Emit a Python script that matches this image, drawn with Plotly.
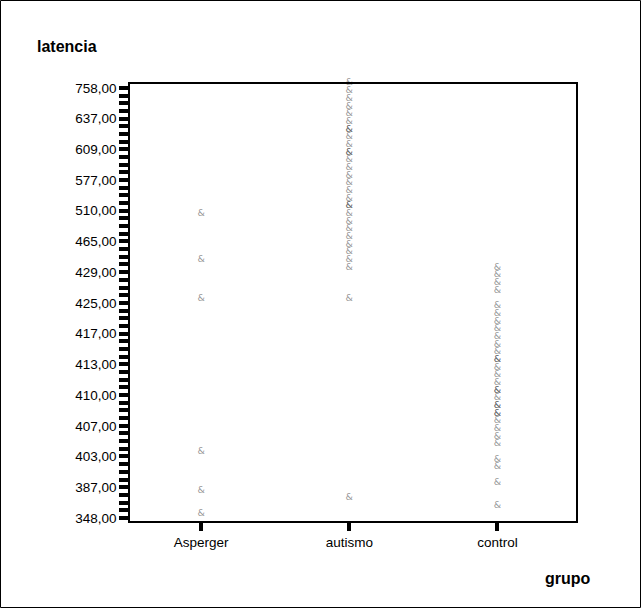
import plotly.graph_objects as go

# ---- data ----
grupos = ["Asperger", "autismo", "control"]

# distinct latency values (categorical y axis, ascending)
niveles = [348, 362, 375, 381, 387, 392, 397, 401, 403, 404, 405, 406, 407, 407.5,
           408, 409, 410, 410.5, 411, 412, 413, 414, 415, 416, 417, 419, 421, 423,
           425, 426, 427, 428, 429, 435, 445, 455, 465, 475, 488, 498, 510, 525,
           545, 560, 577, 585, 593, 601, 609, 615, 622, 630, 637, 660, 690, 720, 758]

asperger = [348, 381, 403, 425, 435, 498]

autismo = [375, 425, 429, 435, 445, 455, 465, 475, 488, 498, 510, 510, 525, 545,
           560, 577, 585, 593, 601, 601, 609, 615, 622, 622, 630, 637, 660, 690,
           720, 758]

control = [362, 387, 397, 401, 404, 405, 406, 407, 407.5, 407.5, 408, 408, 409,
           410, 410, 410.5, 411, 412, 413, 413, 414, 415, 416, 417, 419, 421, 423,
           426, 427, 428, 429]


def fmt(v):
    return f"{v:.2f}".replace(".", ",")


cat_array = [fmt(v) for v in niveles]
ticktext = [c if i % 4 == 0 else "" for i, c in enumerate(cat_array)]

FONT = "Liberation Sans, Arial, sans-serif"

fig = go.Figure()
for g, vals in zip(grupos, [asperger, autismo, control]):
    fig.add_trace(go.Scatter(
        x=[g] * len(vals),
        y=[fmt(v) for v in vals],
        mode="text",
        text=["&"] * len(vals),
        textposition="top center",
        textfont=dict(size=9.5, color="rgba(60,60,60,0.55)", family="DejaVu Sans"),
        cliponaxis=False,
        showlegend=False,
        hoverinfo="skip",
    ))

L, R, T, B = 130, 66, 84, 88
W, H = 642, 609
pw, ph = W - L - R, H - T - B


def px(x):
    return (x - L) / pw


def py(y):
    return (H - B - y) / ph


fig.update_layout(
    width=W, height=H,
    margin=dict(l=L, r=R, t=T, b=B),
    plot_bgcolor="white", paper_bgcolor="white",
    font=dict(family=FONT, size=13, color="black"),
    xaxis=dict(
        type="category", categoryorder="array", categoryarray=grupos,
        range=[-0.48, 2.53],
        showline=True, mirror=True, linecolor="black", linewidth=1.5,
        ticks="outside", ticklen=8, tickwidth=4, tickcolor="black",
        showgrid=False, zeroline=False,
        tickfont=dict(size=13.5, family=FONT),
    ),
    yaxis=dict(
        type="category", categoryorder="array", categoryarray=cat_array,
        range=[-0.4, 56.5],
        tickmode="array", tickvals=cat_array, ticktext=ticktext,
        showline=True, mirror=True, linecolor="black", linewidth=1.5,
        ticks="outside", ticklen=9, tickwidth=3.5, tickcolor="black",
        showgrid=False, zeroline=False,
        tickfont=dict(size=13.5, family=FONT),
    ),
    annotations=[
        dict(text="<b>latencia</b>", xref="paper", yref="paper",
             x=px(35), y=py(47), xanchor="left", yanchor="middle",
             showarrow=False, font=dict(size=16, family=FONT)),
        dict(text="<b>grupo</b>", xref="paper", yref="paper",
             x=px(593), y=py(578), xanchor="right", yanchor="middle",
             showarrow=False, font=dict(size=16, family=FONT)),
    ],
    shapes=[
        dict(type="rect", xref="paper", yref="paper",
             x0=px(0.5), x1=px(640.5), y0=py(607.5), y1=py(0.5),
             line=dict(color="black", width=1), layer="below"),
    ],
)

fig.write_html("out.html", config={"displayModeBar": False},
               post_script="document.body.style.margin='0';document.body.style.padding='0';")
